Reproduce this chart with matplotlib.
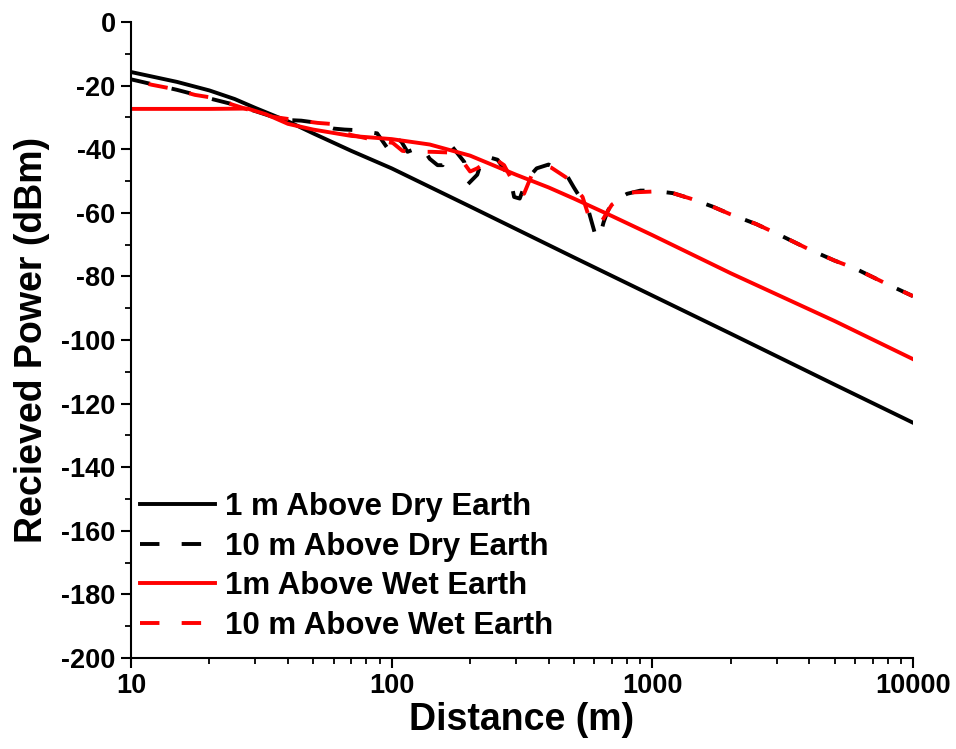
import matplotlib
matplotlib.use("Agg")
import matplotlib.pyplot as plt
from matplotlib.lines import Line2D
from matplotlib.ticker import FixedLocator, LogLocator, NullFormatter, MultipleLocator

plt.rcParams['font.family'] = ['Liberation Sans', 'DejaVu Sans']
plt.rcParams['font.weight'] = 'bold'
plt.rcParams['lines.scale_dashes'] = False
plt.rcParams['axes.unicode_minus'] = False

# 1 m above dry earth
d_dry1 = [10, 15, 20, 25, 30, 40, 50, 70, 100, 200, 500, 1000, 2000, 5000, 10000]
p_dry1 = [-15.7, -18.8, -21.5, -24.2, -27, -31.2, -35, -40.5, -46, -58, -74, -86, -98, -114, -126]

# 10 m above dry earth
d_dry10 = [10, 12, 15, 18, 20, 25, 30, 35, 40, 45, 50, 55, 60, 66, 74, 80, 88, 98, 104, 109, 115,
           122, 130, 140, 150, 157, 170, 190, 196, 213, 225, 255, 285, 295, 310, 330, 360, 400,
           463, 500, 570, 600, 625, 650, 670, 700, 800, 900, 1000, 1200, 1400, 1700, 2000, 2500,
           3000, 4000, 5000, 6000, 8000, 10000]
p_dry10 = [-18, -19.5, -21.3, -23, -24, -26, -28, -29.8, -30.8, -31, -31.5, -32.5, -33.5, -33.8, -34,
           -34.5, -35, -40.5, -36.5, -37.6, -40.8, -40, -39, -43, -45, -45, -39, -44, -51, -48, -42,
           -43.3, -49, -55, -55.5, -49.5, -46, -44.8, -47.3, -52, -59.5, -66, -68.3, -63, -60,
           -56.7, -54, -53, -53, -53.8, -55.5, -58, -60.5, -63.5, -66.5, -71.5, -75, -77.5, -82.5, -86.2]

# 1 m above wet earth
d_wet1 = [10, 20, 28, 33, 40, 50, 70, 100, 140, 200, 300, 400, 500, 700, 1000, 2000, 5000, 10000]
p_wet1 = [-27.3, -27.3, -27.2, -29, -32, -33.8, -35.8, -36.8, -38.5, -42, -48, -52, -55.5, -61, -67,
          -79, -94, -106]

# 10 m above wet earth
d_wet10 = [10, 12, 14.5, 17.6, 20.6, 24.6, 29.4, 35, 42, 52, 58, 61, 64, 70, 85, 101, 110, 120, 143,
           165, 188, 200, 213, 245, 270, 285, 315, 322, 345, 400, 410, 470, 540, 570, 630, 680, 700,
           820, 1000, 1200, 1400, 1700, 2000, 2500, 3000, 4000, 5000, 6000, 8000, 10000]
p_wet10 = [-18.2, -19.7, -21, -22.9, -23.8, -26, -28, -29.8, -30.7, -31.7, -32, -32.3, -34.5, -35.5,
           -37, -38, -40.5, -40.8, -40.8, -41, -44, -47, -46, -42.6, -45, -48.6, -53, -54, -48, -45.5,
           -45.8, -49, -55, -61, -63.6, -59, -57.4, -53.6, -53.3, -53.8, -55.5, -58, -60.5, -63.5,
           -66.5, -71.5, -75, -77.5, -82.5, -86.2]

labels = ['1 m Above Dry Earth', '10 m Above Dry Earth', '1m Above Wet Earth', '10 m Above Wet Earth']

fig = plt.figure(figsize=(9.56, 7.49), dpi=100)
ax = fig.add_axes([0.137, 0.1215, 0.818, 0.849])

lw = 2.8
dash = (14, 16)
ax.plot(d_dry1, p_dry1, color='black', lw=lw)
ax.plot(d_dry10, p_dry10, color='black', lw=lw, linestyle=(0, dash))
ax.plot(d_wet1, p_wet1, color='#ff0000', lw=lw)
ax.plot(d_wet10, p_wet10, color='#ff0000', lw=lw, linestyle=(17, dash))

ax.set_xscale('log')
ax.set_xlim(10, 10000)
ax.set_ylim(-200, 0)
ax.xaxis.set_major_locator(FixedLocator([10, 100, 1000, 10000]))
ax.set_xticklabels(['10', '100', '1000', '10000'])
ax.xaxis.set_minor_locator(LogLocator(base=10, subs=range(2, 10)))
ax.xaxis.set_minor_formatter(NullFormatter())
ax.yaxis.set_major_locator(MultipleLocator(20))
ax.yaxis.set_minor_locator(MultipleLocator(10))

ax.spines['top'].set_visible(False)
ax.spines['right'].set_visible(False)
ax.spines['left'].set_linewidth(1.5)
ax.spines['bottom'].set_linewidth(1.5)
ax.tick_params(which='major', direction='out', length=7, width=1.5, labelsize=19.5, pad=4)
ax.tick_params(which='minor', direction='out', length=4, width=1.3)

ax.set_xlabel('Distance (m)', fontsize=27, fontweight='bold', labelpad=2)
ax.set_ylabel('Recieved Power (dBm)', fontsize=27, fontweight='bold', labelpad=8)

handles = [Line2D([], [], color='black', lw=lw),
           Line2D([], [], color='black', lw=lw, linestyle=(0, dash)),
           Line2D([], [], color='#ff0000', lw=lw),
           Line2D([], [], color='#ff0000', lw=lw, linestyle=(0, dash))]
ax.legend(handles, labels, loc='lower left', bbox_to_anchor=(0.0, 0.012), frameon=False,
          fontsize=22.5, handlelength=2.4, handletextpad=0.3, labelspacing=0.31,
          borderaxespad=0.1, borderpad=0.2)

fig.savefig('out.png', dpi=100)
